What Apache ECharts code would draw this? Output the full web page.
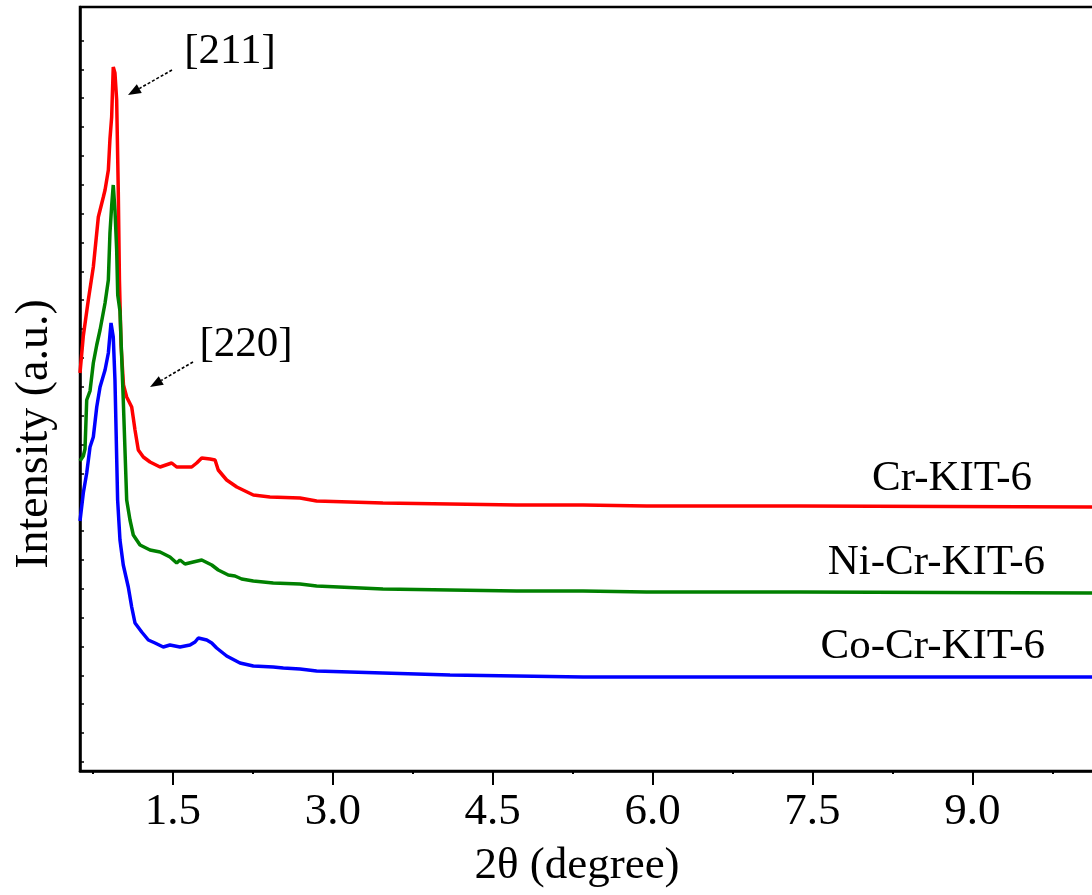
<!DOCTYPE html>
<html>
<head>
<meta charset="utf-8">
<script src="https://cdn.jsdelivr.net/npm/echarts@6/dist/echarts.min.js"></script>
<style>
html,body{margin:0;padding:0;background:#fff;}
#chart{width:1092px;height:895px;}
</style>
</head>
<body>
<div id="chart"></div>
<script>
// 2θ (degree) and intensity (a.u.)
const crX = [0.628,0.659,0.706,0.753,0.800,0.847,0.863,0.894,0.909,0.925,0.940,0.956,0.972,0.987,0.998,1.013,1.036,1.066,1.113,1.128,1.144,1.175,1.222,1.285,1.379,1.488,1.535,1.629,1.676,1.723,1.770,1.848,1.895,1.925,2.004,2.099,2.254,2.410,2.692,2.848,3.470,4.099,4.725,5.347,5.944,7.382,10.121,10.46];
const crY = [398,435,471,504,554,574,581,601,632,654,704,698,671,581,491,426,386,374,364,353,341,321,314,309,304,308,304,304,304,308,313,312,311,301,291,284,276,274,273,270,268,267,266,266,265,265,264,264];

const niX = [0.628,0.644,0.659,0.675,0.691,0.722,0.753,0.785,0.816,0.863,0.894,0.909,0.925,0.940,0.956,0.972,0.982,1.003,1.034,1.066,1.097,1.128,1.144,1.191,1.285,1.379,1.472,1.535,1.566,1.613,1.691,1.770,1.864,1.925,2.019,2.082,2.145,2.254,2.441,2.692,2.848,3.470,4.099,4.725,5.347,5.944,7.382,10.121,10.46];
const niY = [310,308,315,322,371,380,408,426,441,468,491,538,565,586,561,521,476,460,371,271,251,236,234,226,221,219,214,208,211,207,209,211,206,201,196,195,192,190,188,187,185,182,181,180,180,179,179,178,178];

const coX = [0.628,0.659,0.691,0.722,0.753,0.785,0.816,0.863,0.894,0.919,0.940,0.956,0.981,1.003,1.034,1.081,1.113,1.144,1.207,1.269,1.332,1.409,1.472,1.566,1.660,1.707,1.738,1.817,1.864,1.910,2.004,2.129,2.254,2.441,2.535,2.692,2.848,3.470,4.099,4.725,5.347,5.944,10.121,10.46];
const coY = [250,278,298,324,334,364,384,401,418,448,434,391,271,231,206,184,164,148,139,131,128,124,126,124,126,129,133,131,128,123,115,108,105,104,103,102,100,98,96,95,94,94,94,94];

const seriesNames = ['Cr-KIT-6','Ni-Cr-KIT-6','Co-Cr-KIT-6'];
const seriesColors = ['#ff0000','#008000','#0000ff'];

const xTickLabels = [1.5,3.0,4.5,6.0,7.5,9.0];
const xMinorTicks = [0.75,2.25,3.75,5.25,6.75,8.25,9.75];
const yTicks = [9.1,37.9,66.8,95.6,124.5,153.4,182.2,211.1,239.9,268.8,297.7,326.5,355.4,384.2,413.1,442.0,470.8,499.7,528.5,557.4,586.3,615.1,644.0,672.8,701.7,730.6];

const FONT = '"Liberation Serif","Times New Roman",serif';

function zip(xs, ys){ return xs.map((x,i)=>[x, ys[i]]); }

function arrow(x1,y1,x2,y2){
  const dx=x2-x1, dy=y2-y1, L=Math.hypot(dx,dy);
  const ux=dx/L, uy=dy/L, px=-uy, py=ux;
  const hl=13, hw=5;
  const bx=x2-ux*hl, by=y2-uy*hl;
  return [
    {type:'line', shape:{x1:x1,y1:y1,x2:bx,y2:by}, style:{stroke:'#000', lineWidth:1.6, lineDash:[3,2]}},
    {type:'polygon', shape:{points:[[x2,y2],[bx+px*hw,by+py*hw],[bx-px*hw,by-py*hw]]}, style:{fill:'#000'}}
  ];
}

const chart = echarts.init(document.getElementById('chart'));
const option = {
  animation:false,
  backgroundColor:'#fff',
  grid:{left:80, top:7, right:-36, bottom:124, show:true, borderColor:'#000', borderWidth:2.5, containLabel:false, outerBoundsMode:'none'},
  xAxis:[{
    type:'value', min:0.628, max:10.46,
    axisLine:{show:true, onZero:false, lineStyle:{color:'#000', width:2.5}},
    axisTick:{show:true, inside:false, length:14, lineStyle:{color:'#000', width:2}, customValues:xTickLabels},
    axisLabel:{show:true, margin:19, color:'#000', fontSize:45, fontFamily:FONT, customValues:xTickLabels, formatter:v=>Number(v).toFixed(1)},
    splitLine:{show:false}
  },{
    type:'value', min:0.628, max:10.46, position:'bottom',
    axisLine:{show:false},
    axisTick:{show:true, inside:false, length:3, lineStyle:{color:'#000', width:2}, customValues:xMinorTicks},
    axisLabel:{show:false},
    splitLine:{show:false}
  }],
  yAxis:{
    type:'value', min:0, max:764,
    axisLine:{show:true, onZero:false, lineStyle:{color:'#000', width:2.5}},
    axisTick:{show:true, inside:true, length:4, lineStyle:{color:'#000', width:1.5}, customValues:yTicks},
    axisLabel:{show:false},
    splitLine:{show:false}
  },
  series:[
    {name:seriesNames[0], type:'line', data:zip(crX,crY), showSymbol:false, symbol:'none', lineStyle:{color:seriesColors[0], width:3.5}, itemStyle:{color:seriesColors[0]}},
    {name:seriesNames[1], type:'line', data:zip(niX,niY), showSymbol:false, symbol:'none', lineStyle:{color:seriesColors[1], width:3.5}, itemStyle:{color:seriesColors[1]}},
    {name:seriesNames[2], type:'line', data:zip(coX,coY), showSymbol:false, symbol:'none', lineStyle:{color:seriesColors[2], width:3.5}, itemStyle:{color:seriesColors[2]}}
  ],
  graphic:[
    {type:'text', x:577, y:866, style:{text:'2θ (degree)', fontSize:45, fontFamily:FONT, fill:'#000', align:'center', verticalAlign:'middle'}},
    {type:'text', x:35, y:434, rotation:Math.PI/2, style:{text:'Intensity (a.u.)', fontSize:46, fontFamily:FONT, fill:'#000', align:'center', verticalAlign:'middle'}},
    {type:'text', x:1032, y:479, style:{text:seriesNames[0], fontSize:43, fontFamily:FONT, fill:'#000', align:'right', verticalAlign:'middle'}},
    {type:'text', x:1045, y:563, style:{text:seriesNames[1], fontSize:43, fontFamily:FONT, fill:'#000', align:'right', verticalAlign:'middle'}},
    {type:'text', x:1045, y:647, style:{text:seriesNames[2], fontSize:43, fontFamily:FONT, fill:'#000', align:'right', verticalAlign:'middle'}},
    {type:'text', x:230, y:52, style:{text:'[211]', fontSize:43, fontFamily:FONT, fill:'#000', align:'center', verticalAlign:'middle'}},
    {type:'text', x:246, y:345, style:{text:'[220]', fontSize:43, fontFamily:FONT, fill:'#000', align:'center', verticalAlign:'middle'}},
    ...arrow(172,70,128,95),
    ...arrow(193,362,150,387)
  ]
};
chart.setOption(option);
</script>
</body>
</html>
